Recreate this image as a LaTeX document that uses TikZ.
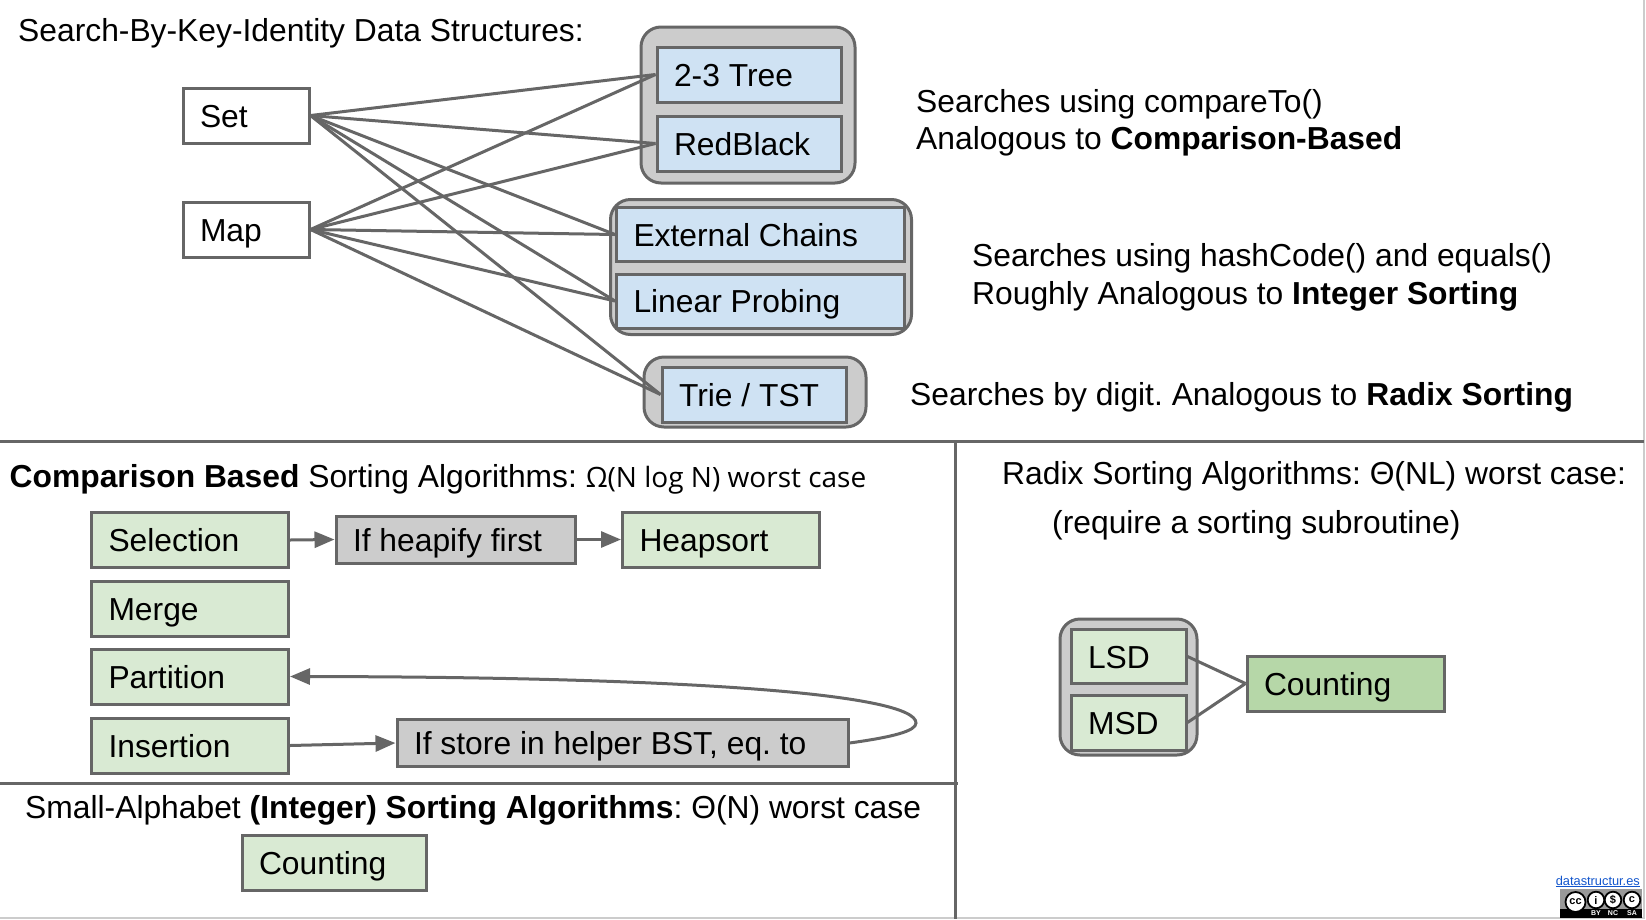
\documentclass[tikz,border=0pt]{standalone}
\usepackage{fontspec}
\setmainfont{Liberation Sans}
\newfontfamily\lightfont{Open Sans}
\usepackage{xcolor}
\usetikzlibrary{arrows.meta}
\definecolor{edgegray}{HTML}{666666}
\definecolor{groupgray}{HTML}{CCCCCC}
\definecolor{greenbox}{HTML}{D9EAD3}
\definecolor{darkgreen}{HTML}{B6D7A8}
\definecolor{bluebox}{HTML}{CFE2F3}
\definecolor{linkblue}{HTML}{1155CC}
\tikzset{
  every node/.style={font=\fontsize{31.8}{36}\selectfont\frenchspacing},
  item/.style 2 args={draw=edgegray, line width=3pt, rectangle, anchor=center, inner xsep=17pt, inner ysep=0pt,
    minimum width=#1, text width=#1-34pt, minimum height=#2, text height=23pt, text depth=0pt, align=flush left},
  group/.style 2 args={draw=edgegray, line width=3pt, fill=groupgray, rounded corners=20pt, rectangle, anchor=center,
    inner sep=0pt, minimum width=#1, minimum height=#2},
  caption/.style={anchor=base west, inner sep=0pt},
  link/.style={draw=edgegray, line width=3pt},
  arr/.style={draw=edgegray, line width=3pt, -{Triangle[length=20pt,width=16pt,fill=edgegray]}},
  rule/.style={draw=edgegray, line width=3pt}
}
\begin{document}
\begin{tikzpicture}[x=1pt, y=-1pt]
\useasboundingbox (0,0) rectangle (1646,919);
% frame and dividers
\draw[groupgray, line width=1.5pt] (1644,0) -- (1644,918) -- (0,918);
\coordinate (ruleL) at (0,441); \coordinate (ruleR) at (1644,441);
\coordinate (ruleT) at (955.5,441); \coordinate (ruleB) at (955.5,919);
\coordinate (lowL) at (0,783); \coordinate (lowR) at (958,783);
\draw[rule] (ruleL) -- (ruleR);
\draw[rule] (ruleT) -- (ruleB);
\draw[rule] (lowL) -- (lowR);
% top part
\node[caption] (title) at (18,41) {Search-By-Key-Identity Data Structures:};
\node[item={126pt}{55pt}, fill=white] (set) at (246,115.5) {Set};
\node[item={126pt}{55pt}, fill=white] (map) at (246,229.5) {Map};
\node[group={214pt}{156pt}] (treegroup) at (748,105) {};
\node[item={184pt}{55pt}, fill=bluebox] (tree) at (749,74.5) {2-3 Tree};
\node[item={184pt}{55pt}, fill=bluebox] (redblack) at (749,143.5) {RedBlack};
\node[group={301pt}{135pt}] (hashgroup) at (761,267) {};
\node[item={288pt}{54pt}, fill=bluebox] (chains) at (760.5,234.5) {External Chains};
\node[item={288pt}{54pt}, fill=bluebox] (probing) at (760.5,301) {Linear Probing};
\node[group={222pt}{70pt}] (triegroup) at (755,392) {};
\node[item={184pt}{55pt}, fill=bluebox] (trie) at (754,394.5) {Trie / TST};
\draw[link] (set.east) -- (tree.west);
\draw[link] (set.east) -- (redblack.west);
\draw[link] (set.east) -- (chains.west);
\draw[link] (set.east) -- (probing.west);
\draw[link] (set.east) -- (trie.west);
\draw[link] (map.east) -- (tree.west);
\draw[link] (map.east) -- (redblack.west);
\draw[link] (map.east) -- (chains.west);
\draw[link] (map.east) -- (probing.west);
\draw[link] (map.east) -- (trie.west);
\node[caption] (cmpA) at (916,112) {Searches using compareTo()};
\node[caption] (cmpB) at (916,149) {Analogous to \textbf{Comparison-Based}};
\node[caption] (hashA) at (972,266) {Searches using hashCode() and equals()};
\node[caption] (hashB) at (972,304) {Roughly Analogous to \textbf{Integer Sorting}};
\node[caption] (digit) at (910,405) {Searches by digit. Analogous to \textbf{Radix Sorting}};
% comparison sorts
\node[caption] (cmphead) at (9.5,487) {\textbf{Comparison Based} Sorting Algorithms: {\lightfont\fontsize{28}{32}\selectfont Ω(N log N) worst case}};
\node[item={197pt}{55pt}, fill=greenbox] (sel) at (190,540) {Selection};
\node[item={197pt}{55pt}, fill=greenbox] (merge) at (190,608.5) {Merge};
\node[item={197pt}{55pt}, fill=greenbox] (part) at (190,676.5) {Partition};
\node[item={197pt}{55pt}, fill=greenbox] (ins) at (190,745.5) {Insertion};
\node[item={239pt}{47pt}, fill=groupgray] (heapify) at (455.5,539.5) {If heapify first};
\node[item={197pt}{55pt}, fill=greenbox] (heap) at (721,539.5) {Heapsort};
\node[item={451pt}{47pt}, fill=groupgray] (store) at (622.5,743) {If store in helper BST, eq. to};
\coordinate (turn) at (916,723);
\draw[arr] (sel.east) -- (heapify.west);
\draw[arr] (heapify.east) -- (heap.west);
\draw[arr] (ins.east) -- (store.west);
\draw[arr] (store.east) .. controls (893,737) and (916,731) .. (turn) .. controls (916,694) and (690,677) .. (part.east);
% integer sorts
\node[caption] (inthead) at (25,818) {Small-Alphabet \textbf{(Integer) Sorting Algorithms}: Θ(N) worst case};
\node[item={184pt}{55pt}, fill=greenbox] (cnt) at (334,862.5) {Counting};
% radix sorts
\node[caption] (radA) at (1002,484) {Radix Sorting Algorithms: Θ(NL) worst case:};
\node[caption] (radB) at (1052,533) {(require a sorting subroutine)};
\node[group={137pt}{136pt}] (radgroup) at (1128.5,687) {};
\node[item={115pt}{54pt}, fill=greenbox] (lsd) at (1128.5,656.5) {LSD};
\node[item={115pt}{55pt}, fill=greenbox] (msd) at (1128.5,722.5) {MSD};
\node[item={197pt}{55pt}, fill=darkgreen] (radcnt) at (1345.5,683.5) {Counting};
\draw[link] (lsd.east) -- (radcnt.west);
\draw[link] (msd.east) -- (radcnt.west);
% licence badge
\node[anchor=base east, inner sep=0pt, font=\fontsize{12.8}{15}\selectfont, text=linkblue] (site) at (1640,885) {\underline{datastructur.es}};
\fill[groupgray!75!black] (1560,889) rectangle (1642,918);
\fill[black] (1560,909) rectangle (1642,918);
\foreach \cx/\cy/\cr/\tx in {1575.5/902/10/cc, 1596/900/8.3/i, 1613/900/8.3/\$, 1632/900/8.3/c}
  \filldraw[fill=white, draw=black, line width=1.8pt] (\cx,\cy) circle (\cr pt) node[inner sep=0pt, font=\fontsize{11}{11}\selectfont\bfseries] {\tx};
\foreach \bx/\tx in {1596/BY, 1613/NC, 1632/SA}
  \node[text=white, inner sep=0pt, font=\fontsize{7}{7}\selectfont\bfseries] at (\bx,913.5) {\tx};
\end{tikzpicture}
\end{document}
